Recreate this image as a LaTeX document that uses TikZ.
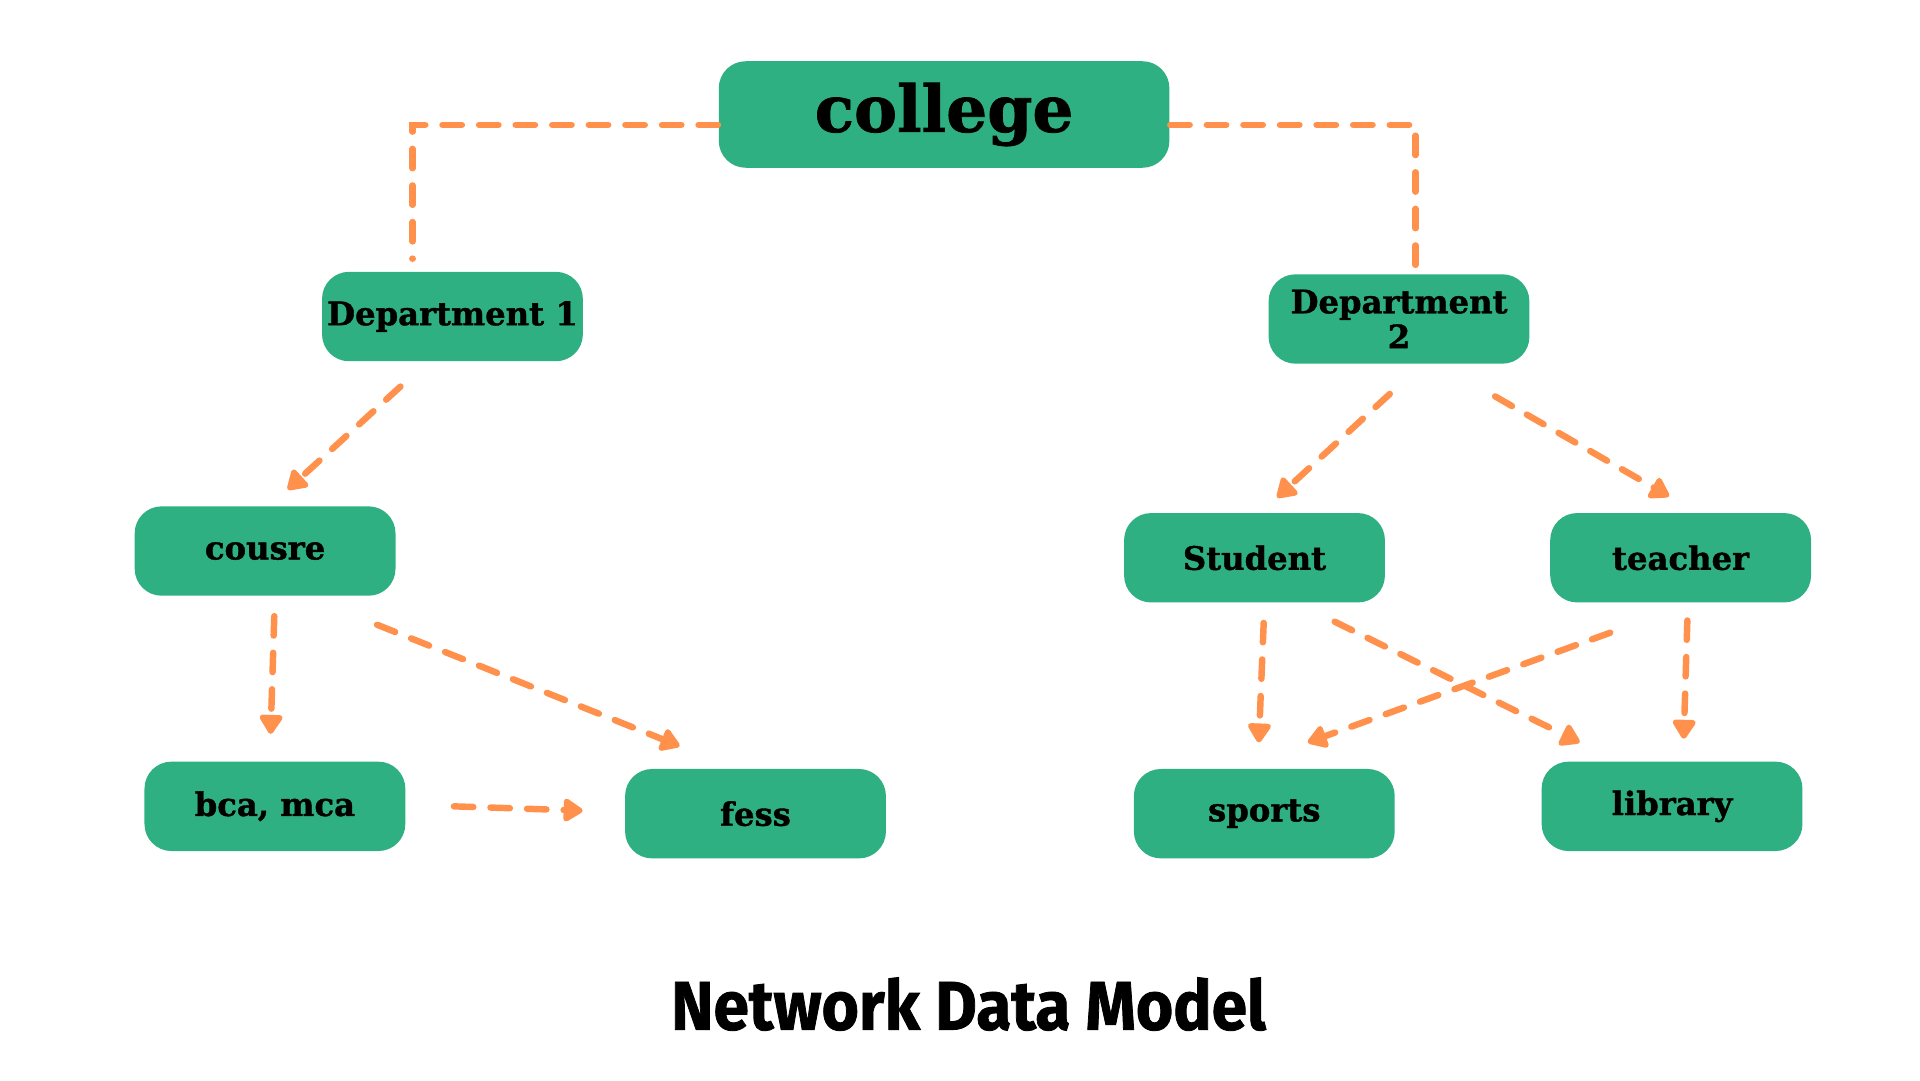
\documentclass[tikz,border=0pt]{standalone}
\usepackage{fontspec}
\usetikzlibrary{arrows.meta}
\setmainfont[BoldFeatures={FakeBold=1.2}]{DejaVu Serif}
\newfontfamily\titlefont[BoldFeatures={FakeBold=1.2}]{Fira Sans}
\definecolor{boxgreen}{RGB}{46,176,130}
\definecolor{linkorange}{RGB}{255,145,77}
\tikzstyle{entity}=[rectangle,rounded corners=2.2mm,minimum width=2.13cm,minimum height=0.73cm,inner sep=0pt,text centered,fill=boxgreen,font=\fontsize{7.5}{8}\selectfont\bfseries]
\tikzstyle{top}=[entity,minimum width=3.68cm,minimum height=0.87cm,font=\fontsize{15}{16}\selectfont\bfseries]
\tikzstyle{link}=[linkorange,line width=1.5pt,line cap=round,dash pattern=on 4.5pt off 4pt]
\tikzstyle{arrow}=[link,-{Triangle[length=5pt,width=6pt,round]}]

\begin{document}
\begin{tikzpicture}[node distance=1.65cm]
            \useasboundingbox (0,0) rectangle (15.68,8.82);
            \node (college)[top] at (7.71,7.885){college};
            \node (dept1)[entity,below of=college,yshift=0cm,xshift=-4.015cm]{Department 1};
            \node (dept2)[entity,below of=college,yshift=-0.02cm,xshift=3.715cm,align=center,font=\fontsize{7.5}{7}\selectfont\bfseries]{Department\\2};
            \node (cousre)[entity,below of=dept1,yshift=-0.265cm,xshift=-1.53cm]{cousre};
            \node (student)[entity,below of=dept2,yshift=-0.3cm,xshift=-1.18cm]{Student};
            \node (teacher)[entity,below of=dept2,yshift=-0.3cm,xshift=2.3cm]{teacher};
            \node (bca)[entity,below of=cousre,yshift=-0.435cm,xshift=0.08cm]{bca, mca};
            \node (fess)[entity,below of=cousre,yshift=-0.495cm,xshift=4.005cm]{fess};
            \node (sports)[entity,below of=student,yshift=-0.44cm,xshift=0.08cm]{sports};
            \node (library)[entity,below of=teacher,yshift=-0.38cm,xshift=-0.07cm]{library};
            \node (title)[xscale=0.93,transform shape] at (7.91,0.62){\titlefont\fontsize{16}{18}\selectfont\bfseries Network Data Model};
            \draw [link] ([yshift=-0.85mm]college.west) -| ([xshift=-3.25mm,yshift=1mm]dept1.north);
            \draw [link] ([yshift=-0.85mm]college.east) -| ([xshift=1.35mm]dept2.north);
            \draw [arrow] ([xshift=-4.25mm,yshift=-2mm]dept1.south) -- ([xshift=1.85mm,yshift=1.3mm]cousre.north);
            \draw [arrow] ([xshift=0.75mm,yshift=-1.6mm]cousre.south) -- ([xshift=-0.35mm,yshift=2.2mm]bca.north);
            \draw [arrow] ([xshift=9.15mm,yshift=-2.3mm]cousre.south) -- ([xshift=-6.2mm,yshift=1.8mm]fess.north);
            \draw [arrow] ([xshift=3.9mm]bca.east) -- ([xshift=-3.4mm,yshift=0.25mm]fess.west);
            \draw [arrow] ([xshift=-0.75mm,yshift=-2.4mm]dept2.south) -- ([xshift=1.85mm,yshift=1.2mm]student.north);
            \draw [arrow] ([xshift=7.85mm,yshift=-2.6mm]dept2.south) -- ([xshift=-0.95mm,yshift=1.3mm]teacher.north);
            \draw [arrow] ([xshift=0.75mm,yshift=-1.6mm]student.south) -- ([xshift=-0.45mm,yshift=2.1mm]sports.north);
            \draw [arrow] ([xshift=6.55mm,yshift=-1.5mm]student.south) -- ([xshift=-7.55mm,yshift=1.5mm]library.north);
            \draw [arrow] ([xshift=-5.75mm,yshift=-2.4mm]teacher.south) -- ([xshift=3.55mm,yshift=2.1mm]sports.north);
            \draw [arrow] ([xshift=0.55mm,yshift=-1.4mm]teacher.south) -- ([xshift=0.95mm,yshift=1.8mm]library.north);
        \end{tikzpicture}
\end{document}
